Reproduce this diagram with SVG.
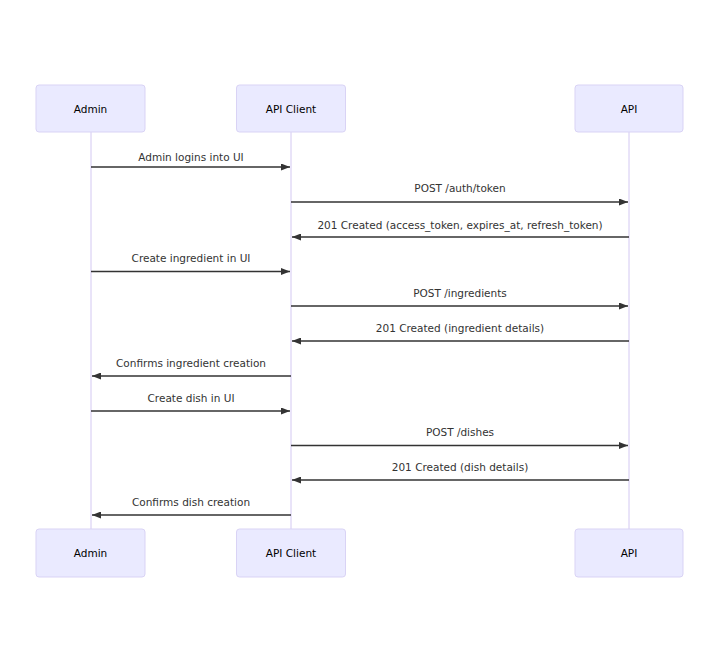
<svg xmlns="http://www.w3.org/2000/svg" width="720" height="663" viewBox="0 0 720 663">
  <style>
    .actor { fill: #eaeaff; stroke: #d9d3f5; stroke-width: 1; }
    .actor-text { font-family: "DejaVu Sans", Verdana, sans-serif; font-size: 10.5px; fill: #000; text-anchor: middle; dominant-baseline: central; }
    .lifeline { stroke: #d3c8f2; stroke-width: 1; }
    .msg { stroke: #333; stroke-width: 1.5; fill: none; marker-end: url(#arrowhead); }
    .msg-text { font-family: "DejaVu Sans", Verdana, sans-serif; font-size: 10.5px; fill: #333; text-anchor: middle; }
  </style>
  <defs>
    <marker id="arrowhead" viewBox="0 0 9 7" refX="9" refY="3.5" markerWidth="9" markerHeight="7" markerUnits="userSpaceOnUse" orient="auto">
      <path d="M0,0 L9,3.5 L0,7 z" fill="#333"/>
    </marker>
  </defs>
  <rect width="720" height="663" fill="#fff"/>

  <!-- lifelines -->
  <g id="lifelines">
    <line class="lifeline" x1="91" y1="132" x2="91" y2="529"/>
    <line class="lifeline" x1="291" y1="132" x2="291" y2="529"/>
    <line class="lifeline" x1="629" y1="132" x2="629" y2="529"/>
  </g>

  <!-- participants, top -->
  <g id="admin-top">
    <rect class="actor" x="36" y="85" width="109" height="47" rx="3"/>
    <text class="actor-text" x="90.5" y="109">Admin</text>
  </g>
  <g id="apiclient-top">
    <rect class="actor" x="236.5" y="85" width="109" height="47" rx="3"/>
    <text class="actor-text" x="291" y="109">API Client</text>
  </g>
  <g id="api-top">
    <rect class="actor" x="575" y="85" width="108" height="47" rx="3"/>
    <text class="actor-text" x="629" y="109">API</text>
  </g>

  <!-- participants, bottom -->
  <g id="admin-bottom">
    <rect class="actor" x="36" y="529" width="109" height="48" rx="3"/>
    <text class="actor-text" x="90.5" y="553">Admin</text>
  </g>
  <g id="apiclient-bottom">
    <rect class="actor" x="236.5" y="529" width="109" height="48" rx="3"/>
    <text class="actor-text" x="291" y="553">API Client</text>
  </g>
  <g id="api-bottom">
    <rect class="actor" x="575" y="529" width="108" height="48" rx="3"/>
    <text class="actor-text" x="629" y="553">API</text>
  </g>

  <!-- messages -->
  <g id="connectors">
    <line class="msg" x1="91" y1="167" x2="290" y2="167"/>
    <line class="msg" x1="291" y1="202" x2="628" y2="202"/>
    <line class="msg" x1="629" y1="237" x2="292" y2="237"/>
    <line class="msg" x1="91" y1="271.5" x2="290" y2="271.5"/>
    <line class="msg" x1="291" y1="306" x2="628" y2="306"/>
    <line class="msg" x1="629" y1="341" x2="292" y2="341"/>
    <line class="msg" x1="291" y1="376" x2="92" y2="376"/>
    <line class="msg" x1="91" y1="411" x2="290" y2="411"/>
    <line class="msg" x1="291" y1="445.5" x2="628" y2="445.5"/>
    <line class="msg" x1="629" y1="480" x2="292" y2="480"/>
    <line class="msg" x1="291" y1="515" x2="92" y2="515"/>
  </g>

  <g id="message-labels">
    <text class="msg-text" x="191" y="161">Admin logins into UI</text>
    <text class="msg-text" x="460" y="192">POST /auth/token</text>
    <text class="msg-text" x="460" y="229">201 Created (access_token, expires_at, refresh_token)</text>
    <text class="msg-text" x="191" y="262">Create ingredient in UI</text>
    <text class="msg-text" x="460" y="297">POST /ingredients</text>
    <text class="msg-text" x="460" y="332">201 Created (ingredient details)</text>
    <text class="msg-text" x="191" y="367">Confirms ingredient creation</text>
    <text class="msg-text" x="191" y="402">Create dish in UI</text>
    <text class="msg-text" x="460" y="436">POST /dishes</text>
    <text class="msg-text" x="460" y="471">201 Created (dish details)</text>
    <text class="msg-text" x="191" y="506">Confirms dish creation</text>
  </g>
</svg>
